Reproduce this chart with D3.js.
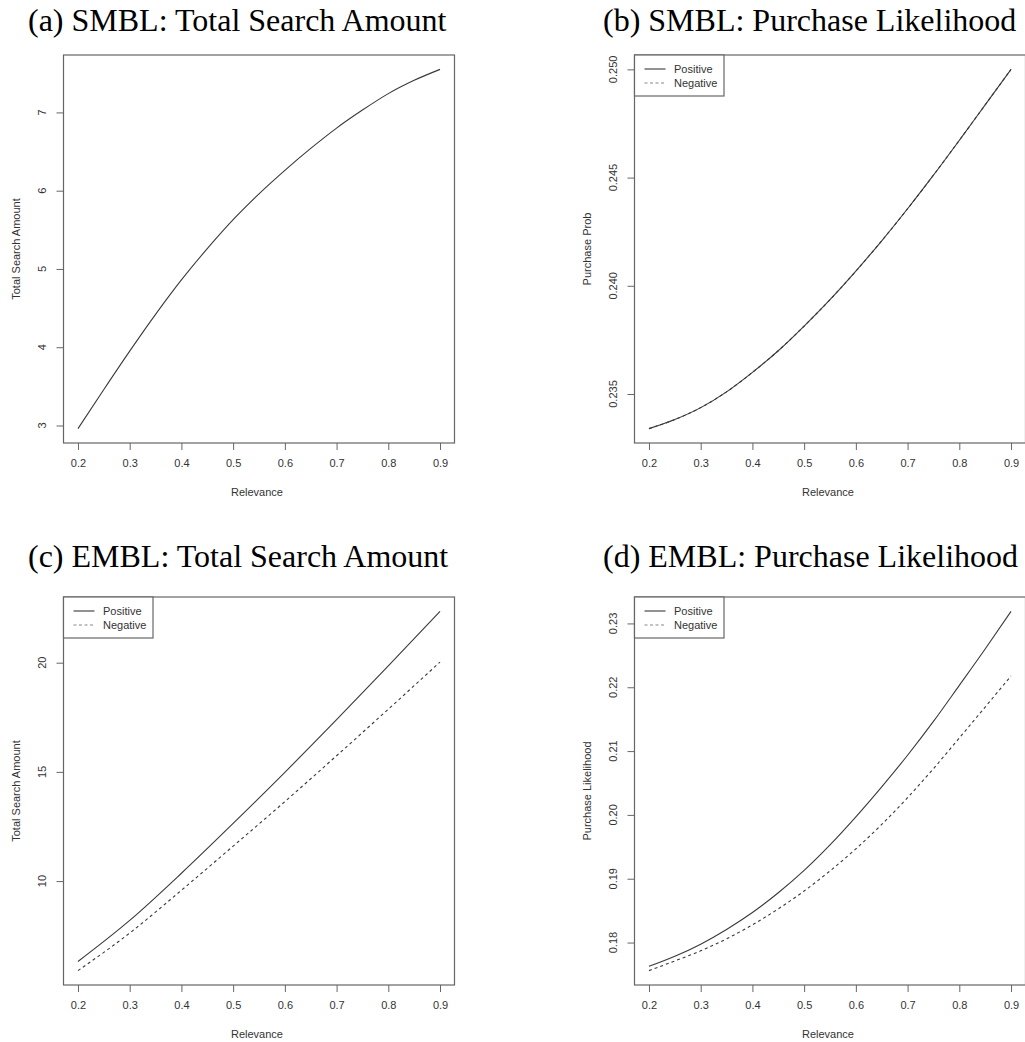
<!DOCTYPE html>
<html>
<head>
<meta charset="utf-8">
<script src="https://cdn.jsdelivr.net/npm/d3@7"></script>
<style>
  body { margin: 0; background: #fff; }
  svg { display: block; }
</style>
</head>
<body>
<div id="chart"></div>
<script>
// relevance grid used for the curves
const relevanceFine = [0.2, 0.25, 0.3, 0.35, 0.4, 0.45, 0.5, 0.55, 0.6, 0.65, 0.7, 0.75, 0.8, 0.85, 0.9];
const relevanceCoarse = [0.2, 0.3, 0.4, 0.5, 0.6, 0.7, 0.8, 0.9];

// (a) SMBL total search amount
const smblSearch = [2.96, 3.46, 3.95, 4.42, 4.86, 5.26, 5.63, 5.96, 6.26, 6.54, 6.80, 7.03, 7.24, 7.41, 7.55];

// (b) SMBL purchase probability (both curves coincide)
const smblPurchasePos = [0.2334, 0.23382, 0.23437, 0.2351, 0.236, 0.237, 0.23814, 0.23936, 0.24068, 0.24208, 0.24356, 0.24511, 0.24672, 0.24836, 0.25];
const smblPurchaseNeg = [0.2334, 0.23382, 0.23437, 0.2351, 0.236, 0.237, 0.23814, 0.23936, 0.24068, 0.24208, 0.24356, 0.24511, 0.24672, 0.24836, 0.25];

// (c) EMBL total search amount
const emblSearchPos = [6.32, 8.20, 10.36, 12.64, 14.98, 17.39, 19.85, 22.35];
const emblSearchNeg = [5.90, 7.62, 9.58, 11.60, 13.64, 15.74, 17.87, 20.03];

// (d) EMBL purchase likelihood
const emblPurchasePos = [0.17627, 0.17785, 0.17975, 0.18205, 0.1847, 0.1878, 0.1913, 0.1953, 0.1997, 0.2044, 0.20935, 0.21465, 0.2203, 0.226, 0.23189];
const emblPurchaseNeg = [0.1756, 0.17712, 0.1787, 0.18058, 0.18278, 0.18528, 0.18808, 0.19122, 0.19468, 0.1985, 0.2027, 0.20725, 0.21205, 0.2169, 0.22177];

// axis ticks
const xTicks = [0.2, 0.3, 0.4, 0.5, 0.6, 0.7, 0.8, 0.9];
const smblSearchTicks = [3, 4, 5, 6, 7];
const smblPurchaseTicks = [0.235, 0.240, 0.245, 0.250];
const emblSearchTicks = [10, 15, 20];
const emblPurchaseTicks = [0.18, 0.19, 0.20, 0.21, 0.22, 0.23];
const legendLabels = ["Positive", "Negative"];

const width = 1025;
const height = 1042;
const boxW = 391;
const boxH = 388;
const ink = "#333";
const frame = "#666";
const sans = "'Liberation Sans', Arial, sans-serif";

const panels = [
  {
    title: "(a) SMBL: Total Search Amount", titleX: 28, titleY: 31,
    left: 63.5, top: 55, yLabel: "Total Search Amount",
    x: relevanceFine, series: [smblSearch], yTicks: smblSearchTicks,
    fmt: d3.format("d"), legend: false,
  },
  {
    title: "(b) SMBL: Purchase Likelihood", titleX: 603, titleY: 31,
    left: 634.5, top: 55, yLabel: "Purchase Prob",
    x: relevanceFine, series: [smblPurchasePos, smblPurchaseNeg], yTicks: smblPurchaseTicks,
    fmt: d3.format(".3f"), legend: true,
  },
  {
    title: "(c) EMBL: Total Search Amount", titleX: 28, titleY: 567,
    left: 63.5, top: 597, yLabel: "Total Search Amount",
    x: relevanceCoarse, series: [emblSearchPos, emblSearchNeg], yTicks: emblSearchTicks,
    fmt: d3.format("d"), legend: true,
  },
  {
    title: "(d) EMBL: Purchase Likelihood", titleX: 603, titleY: 567,
    left: 634.5, top: 597, yLabel: "Purchase Likelihood",
    x: relevanceFine, series: [emblPurchasePos, emblPurchaseNeg], yTicks: emblPurchaseTicks,
    fmt: d3.format(".2f"), legend: true,
  },
];

const svg = d3.select("#chart")
  .append("svg")
  .attr("width", width)
  .attr("height", height);

// R style: pad the data range by 4% on each side
function padded(extent) {
  const pad = (extent[1] - extent[0]) * 0.04;
  return [extent[0] - pad, extent[1] + pad];
}

function drawPanel(p) {
  svg.append("text")
    .attr("x", p.titleX)
    .attr("y", p.titleY)
    .attr("font-family", "'Liberation Serif', 'Times New Roman', serif")
    .attr("font-size", 32)
    .attr("fill", "#000")
    .text(p.title);

  const g = svg.append("g").attr("transform", `translate(${p.left},${p.top})`);

  const xScale = d3.scaleLinear().domain(padded(d3.extent(p.x))).range([0, boxW]);
  const allY = p.series.flat();
  const yScale = d3.scaleLinear().domain(padded(d3.extent(allY))).range([boxH, 0]);

  // x axis ticks
  const xAxis = g.append("g")
    .attr("transform", `translate(0,${boxH})`)
    .call(d3.axisBottom(xScale).tickValues(xTicks).tickSize(7).tickPadding(9).tickFormat(d3.format(".1f")));
  xAxis.select(".domain").remove();
  xAxis.selectAll("line").attr("stroke", frame);
  xAxis.selectAll("text")
    .attr("font-family", sans)
    .attr("font-size", 11)
    .attr("fill", ink);

  // y axis ticks, labels rotated as in R
  const yAxis = g.append("g")
    .call(d3.axisLeft(yScale).tickValues(p.yTicks).tickSize(7).tickFormat(""));
  yAxis.select(".domain").remove();
  yAxis.selectAll("line").attr("stroke", frame);

  g.append("g")
    .selectAll("text")
    .data(p.yTicks)
    .join("text")
    .attr("transform", (d) => `translate(-21,${yScale(d)}) rotate(-90)`)
    .attr("text-anchor", "middle")
    .attr("dy", "0.35em")
    .attr("font-family", sans)
    .attr("font-size", 11)
    .attr("fill", ink)
    .text((d) => p.fmt(d));

  // axis titles
  g.append("text")
    .attr("x", boxW / 2 - 2)
    .attr("y", boxH + 49)
    .attr("dy", "0.35em")
    .attr("text-anchor", "middle")
    .attr("font-family", sans)
    .attr("font-size", 11)
    .attr("fill", ink)
    .text("Relevance");

  g.append("text")
    .attr("transform", `translate(-47,${boxH / 2}) rotate(-90)`)
    .attr("text-anchor", "middle")
    .attr("dy", "0.35em")
    .attr("font-family", sans)
    .attr("font-size", 11)
    .attr("fill", ink)
    .text(p.yLabel);

  // curves
  const line = d3.line()
    .x((d) => xScale(d[0]))
    .y((d) => yScale(d[1]))
    .curve(d3.curveMonotoneX);

  p.series.forEach((values, i) => {
    g.append("path")
      .attr("fill", "none")
      .attr("stroke", "#3a3a3a")
      .attr("stroke-width", 1.1)
      .attr("stroke-dasharray", i === 1 ? "3,3" : null)
      .attr("d", line(p.x.map((x, j) => [x, values[j]])));
  });

  // frame
  g.append("rect")
    .attr("width", boxW)
    .attr("height", boxH)
    .attr("fill", "none")
    .attr("stroke", frame)
    .attr("stroke-width", 1.2);

  if (p.legend) {
    const legend = g.append("g");
    legend.append("rect")
      .attr("width", 89.5)
      .attr("height", 41)
      .attr("fill", "#fff")
      .attr("stroke", frame)
      .attr("stroke-width", 1.2);
    legendLabels.forEach((label, i) => {
      const y = 14 + i * 14;
      legend.append("line")
        .attr("x1", 10).attr("x2", 31)
        .attr("y1", y).attr("y2", y)
        .attr("stroke", i === 1 ? "#888" : "#3a3a3a")
        .attr("stroke-width", 1.1)
        .attr("stroke-dasharray", i === 1 ? "3,2.5" : null);
      legend.append("text")
        .attr("x", 39.5)
        .attr("y", y)
        .attr("dy", "0.35em")
        .attr("font-family", sans)
        .attr("font-size", 11)
        .attr("fill", ink)
        .text(label);
    });
  }
}

panels.forEach(drawPanel);
</script>
</body>
</html>
